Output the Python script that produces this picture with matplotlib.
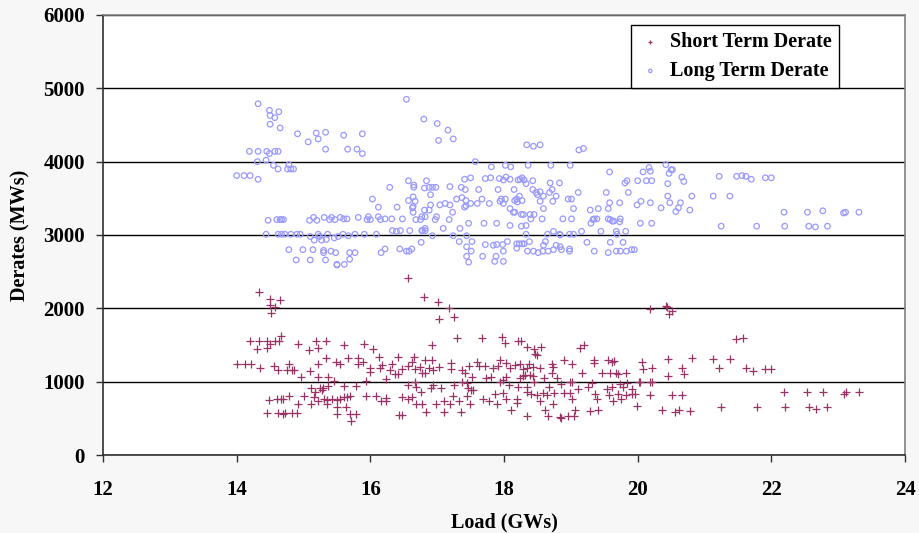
import matplotlib
matplotlib.use("Agg")
import matplotlib.pyplot as plt

# Short term derates: load (GW), derate (MW)
short_load = [
    14.34, 14.50, 14.65, 14.50, 14.57, 14.52, 14.66, 14.20, 14.34, 14.45, 14.50, 14.58, 14.63,
    14.31, 14.45, 14.92, 15.19, 15.22, 15.34, 15.08, 15.61, 15.90, 16.04, 14.01, 14.13, 14.21,
    14.35, 14.56, 14.62, 14.78, 14.76, 14.82, 14.86, 14.96, 15.10, 15.22, 15.34, 15.22, 15.37,
    15.49, 15.55, 15.67, 15.81, 15.81, 15.89, 15.99, 16.00, 16.13, 16.14, 16.18, 16.23, 16.29,
    16.33, 16.37, 16.41, 16.42, 15.46, 15.61, 15.78, 15.93, 15.11, 15.25, 15.29, 15.36, 15.01,
    15.15, 15.27, 15.17, 14.48, 14.61, 14.67, 14.70, 14.78, 14.91, 15.11, 15.21, 15.31, 15.35,
    15.42, 15.50, 15.55, 15.61, 15.65, 15.70, 15.93, 16.09, 16.16, 16.23, 16.23, 15.50, 15.63,
    15.35, 14.45, 14.62, 14.69, 14.72, 14.82, 14.90, 15.50, 15.70, 15.78, 16.43, 15.71,
    16.56, 16.81, 17.01, 17.18, 17.03, 17.25, 20.18, 20.42, 20.44, 20.47, 20.52, 17.30, 17.67,
    17.97, 18.01, 18.21, 18.25, 16.92, 18.34, 18.45, 18.55, 18.47, 18.50, 19.14, 19.20,
    16.66, 16.62, 16.57, 16.48, 16.67, 16.74, 16.82, 16.92, 16.78, 16.82, 16.87, 16.94, 17.02,
    17.21, 17.20, 17.37, 17.42, 17.48, 17.59, 17.63, 17.71, 17.83, 17.91, 17.94, 18.03, 18.09,
    18.16, 18.24, 18.28, 18.34, 18.38, 18.44, 18.54, 18.72, 18.74, 18.89, 19.01, 19.34, 19.34,
    19.56, 19.61, 19.64, 20.06, 20.08, 20.21, 20.46, 20.67, 20.82, 20.70,
    16.57, 16.68, 16.67, 16.91, 16.94, 17.06, 17.25, 17.37, 17.44, 17.46, 17.52, 17.53, 17.73,
    17.81, 17.94, 18.03, 17.99, 18.08, 18.21, 18.24, 18.28, 18.31, 18.34, 18.39, 18.44, 18.45,
    18.60, 18.68, 18.79, 18.85, 18.99, 19.01, 19.11, 19.25, 19.31, 19.46, 19.58, 19.54, 19.61,
    19.68, 19.70, 19.74, 19.78, 19.84, 19.91, 20.02, 20.04, 20.18, 20.22, 20.46, 19.16, 19.83,
    18.72,
    16.47, 16.57, 16.63, 16.69, 16.77, 16.76, 16.98, 17.10, 17.19, 17.23, 17.32, 17.44, 17.49,
    17.51, 17.69, 17.78, 17.87, 17.89, 17.99, 18.03, 18.19, 18.20, 18.35, 18.41, 18.49, 18.54,
    18.59, 18.64, 18.73, 18.75, 18.89, 18.98, 19.01, 19.36, 19.39, 19.57, 19.63, 19.71, 19.75,
    19.82, 19.91, 19.96, 20.19, 20.51, 20.66, 19.99, 20.36, 20.56, 20.62, 20.78, 19.06, 18.61,
    18.11, 19.40, 19.29,
    16.83, 17.10, 17.35, 18.34, 18.66, 18.84, 18.86, 18.96, 19.04, 16.47,
    21.47, 21.57, 21.13, 21.38, 21.22, 21.62, 21.72, 21.91, 21.99, 22.19, 22.54, 22.78, 23.09,
    23.12, 23.31, 21.25, 21.79, 22.20, 22.56, 22.67, 22.84,
]
short_mw = [
    2220, 2130, 2110, 2050, 2020, 1930, 1620, 1550, 1550, 1550, 1520, 1550, 1550,
    1440, 1460, 1520, 1550, 1460, 1560, 1430, 1500, 1520, 1440, 1240, 1240, 1240,
    1180, 1220, 1160, 1240, 1160, 1160, 1160, 1070, 1140, 1245, 1320, 1070, 1070,
    1270, 1240, 1320, 1320, 1240, 1270, 1180, 1130, 1340, 1180, 1230, 1040, 1160,
    1240, 1110, 1340, 1100, 1010, 940, 940, 1010, 910, 910, 910, 940, 800,
    790, 880, 860, 750, 770, 770, 770, 800, 700, 700, 730, 770, 750,
    770, 750, 760, 790, 790, 800, 800, 800, 740, 780, 740, 660, 660,
    700, 570, 570, 560, 570, 570, 570, 560, 560, 560, 550, 470,
    2410, 2150, 2080, 2000, 1860, 1880, 1990, 2030, 2020, 1920, 1960, 1600, 1600,
    1610, 1530, 1550, 1550, 1500, 1470, 1450, 1470, 1380, 1360, 1460, 1500,
    1340, 1270, 1210, 1170, 1170, 1200, 1300, 1300, 1120, 1120, 1180, 1160, 1200,
    1260, 1170, 1160, 1120, 1210, 1270, 1210, 1210, 1180, 1210, 1300, 1250, 1180,
    1230, 1240, 1170, 1180, 1240, 1200, 1190, 1240, 1200, 1300, 1245, 1300, 1250,
    1300, 1270, 1280, 1270, 1170, 1180, 1310, 1180, 1320, 1100,
    960, 930, 990, 910, 960, 910, 960, 1000, 980, 910, 1060, 880, 1050,
    1060, 990, 1060, 1020, 960, 930, 1045, 1080, 1090, 930, 1090, 1080, 990,
    1050, 930, 1045, 970, 1000, 1000, 900, 930, 980, 1120, 1120, 900, 930,
    1120, 1110, 970, 930, 980, 905, 990, 990, 990, 990, 1080, 1120, 1120,
    1120,
    790, 760, 790, 700, 700, 860, 700, 730, 700, 800, 730, 800, 700,
    880, 760, 730, 830, 700, 840, 760, 770, 710, 860, 830, 820, 730,
    850, 820, 700, 840, 850, 840, 760, 830, 760, 820, 730, 830, 760,
    820, 830, 830, 820, 820, 820, 670, 620, 590, 620, 600, 620, 620,
    620, 620, 600,
    580, 580, 580, 530, 530, 520, 510, 530, 530, 550,
    1580, 1600, 1310, 1310, 1180, 1180, 1150, 1170, 1170, 860, 860, 860, 830,
    860, 860, 650, 650, 660, 650, 630, 660,
]

# Long term derates: load (GW), derate (MW)
long_load = [
    14.32, 14.49, 14.63, 14.50, 14.57, 14.50, 14.65, 14.91, 15.19, 15.33, 15.22, 15.07, 15.60,
    15.88, 15.33, 15.66, 15.80, 15.88, 14.19, 14.32, 14.45, 14.49, 14.57, 14.62, 14.31, 14.44,
    14.55, 14.62, 14.78, 14.76, 14.81, 14.85, 14.00, 14.11, 14.20, 14.32, 16.29, 16.03, 16.12,
    16.40,
    14.47, 14.60, 14.65, 14.67, 14.70, 15.09, 15.15, 15.20, 15.31, 15.39, 15.42, 15.47, 15.55,
    15.60, 15.65, 15.82, 15.95, 15.97, 16.00, 16.12, 16.15, 16.22, 16.32,
    14.44, 14.62, 14.67, 14.72, 14.81, 14.90, 14.95, 15.22, 15.36, 15.59, 15.77, 15.91, 16.09,
    16.33, 16.39,
    15.10, 15.16, 15.27, 15.34, 15.24, 15.46, 15.52, 15.67,
    14.78, 14.99, 15.14, 15.30, 15.30, 15.41, 15.48, 15.69, 15.77, 16.16, 16.22,
    14.89, 15.10, 15.33, 15.69, 15.50, 15.50, 15.61,
    16.54, 16.80, 17.00, 17.16, 17.02, 17.24, 18.34, 18.44, 18.54, 19.12, 19.19, 17.57,
    17.81, 18.02, 18.10, 18.36, 18.70, 18.99, 19.58, 20.17, 20.19, 20.42, 20.47, 20.50, 20.52,
    20.08,
    16.57, 16.84, 17.41, 17.50, 17.72, 17.80, 17.93, 17.99, 18.03, 18.09, 18.21, 18.24, 18.27,
    18.30, 18.43, 18.69, 18.83, 19.81, 19.84, 20.00, 20.13, 20.21, 20.45, 20.66, 20.69,
    16.65, 16.65, 16.81, 16.88, 16.93, 16.98, 17.19, 17.36, 17.42, 17.62, 17.91, 18.15, 18.33,
    18.43, 18.48, 18.54, 18.50, 18.59, 18.72, 18.68, 18.78, 19.11, 19.53, 19.86,
    16.57, 16.64, 16.67, 16.64, 16.90, 17.04, 17.12, 17.19, 17.29, 17.37, 17.43, 17.43, 17.50,
    17.60, 17.67, 17.78, 17.94, 17.96, 18.02, 17.99, 18.09, 18.14, 18.16, 18.19, 18.23, 18.20,
    18.27, 18.54, 18.73, 18.96, 19.01, 19.04, 19.29, 19.41, 19.56, 19.58, 19.73, 19.99, 20.05,
    20.19, 20.35, 20.45, 20.48, 20.57, 20.61, 20.64, 20.78, 20.81,
    16.48, 16.64, 16.63, 16.68, 16.75, 16.77, 16.81, 16.82, 16.88, 16.90, 16.97, 16.99, 17.18,
    17.23, 17.41, 17.47, 17.70, 17.89, 18.09, 18.16, 18.26, 18.29, 18.26, 18.33, 18.39, 18.40,
    18.45, 18.57, 18.59, 18.88, 19.01, 19.30, 19.33, 19.35, 19.39, 19.56, 19.59, 19.62, 19.64,
    19.74, 19.73, 20.04, 20.21,
    16.45, 16.59, 16.77, 16.78, 16.82, 16.82, 16.93, 17.09, 17.24, 17.34, 17.44, 18.33, 18.65,
    18.74, 18.83, 18.84, 18.98, 19.04, 19.16, 19.45, 19.68, 19.69, 19.82,
    16.76, 16.44, 16.54, 16.58, 16.62, 17.33, 17.44, 17.52, 17.51, 17.72, 17.84, 17.89, 17.98,
    17.99, 18.05, 18.19, 18.19, 18.23, 18.27, 18.30, 18.35, 18.38, 18.44, 18.51, 18.58, 18.59,
    18.62, 18.66, 18.74, 18.78, 18.84, 18.86, 18.98, 18.98, 19.24, 19.35, 19.56, 19.59, 19.68,
    19.74, 19.78, 19.83, 19.91, 19.95,
    17.44, 17.47, 17.68, 17.86, 17.88, 17.99,
    21.22, 21.48, 21.56, 21.62, 21.70, 21.91, 22.00, 21.13, 21.38, 22.19, 22.54, 22.77, 23.08,
    23.11, 23.31, 21.25, 21.78, 22.20, 22.56, 22.66, 22.84,
]
long_mw = [
    4790, 4700, 4680, 4630, 4600, 4510, 4460, 4380, 4390, 4400, 4310, 4270, 4360,
    4380, 4170, 4170, 4170, 4110, 4140, 4140, 4140, 4110, 4140, 4140, 4000, 4020,
    3950, 3900, 3960, 3900, 3900, 3900, 3810, 3810, 3810, 3760, 3650, 3490, 3380,
    3380,
    3200, 3210, 3210, 3210, 3210, 3200, 3240, 3200, 3240, 3210, 3240, 3210, 3240,
    3220, 3220, 3240, 3210, 3250, 3210, 3250, 3210, 3220, 3220,
    3010, 3010, 3010, 3010, 3010, 3010, 3010, 3010, 3010, 3010, 3010, 3010, 3010,
    3060, 3050,
    2980, 2930, 2930, 2940, 2980, 2960, 2980, 2990,
    2800, 2800, 2800, 2790, 2760, 2780, 2760, 2760, 2760, 2760, 2810,
    2660, 2660, 2660, 2670, 2600, 2590, 2600,
    4850, 4580, 4520, 4430, 4290, 4310, 4230, 4210, 4230, 4160, 4180, 4000,
    3930, 3950, 3930, 3950, 3950, 3950, 3860, 3920, 3870, 3960, 3840, 3890, 3890,
    3860,
    3740, 3740, 3760, 3780, 3770, 3780, 3770, 3750, 3790, 3760, 3750, 3760, 3780,
    3750, 3740, 3710, 3710, 3710, 3740, 3740, 3740, 3740, 3700, 3790, 3730,
    3680, 3650, 3640, 3650, 3650, 3650, 3660, 3650, 3620, 3620, 3620, 3620, 3700,
    3620, 3580, 3590, 3550, 3530, 3620, 3580, 3530, 3580, 3580, 3580,
    3470, 3520, 3460, 3390, 3550, 3410, 3430, 3410, 3490, 3510, 3470, 3400, 3430,
    3430, 3490, 3430, 3460, 3490, 3490, 3430, 3360, 3310, 3470, 3490, 3530, 3450,
    3470, 3460, 3460, 3490, 3490, 3360, 3340, 3360, 3360, 3440, 3440, 3410, 3460,
    3440, 3370, 3530, 3440, 3320, 3370, 3440, 3340, 3530,
    3220, 3310, 3370, 3210, 3210, 3250, 3340, 3250, 3340, 3410, 3210, 3250, 3210,
    3310, 3380, 3160, 3160, 3160, 3130, 3310, 3280, 3280, 3120, 3130, 3280, 3220,
    3280, 3220, 3360, 3220, 3220, 3160, 3210, 3220, 3220, 3220, 3210, 3190, 3190,
    3220, 3180, 3160, 3160,
    3060, 3060, 3060, 3060, 3090, 3060, 2990, 3090, 2990, 3090, 2990, 3010, 3010,
    3050, 3010, 3000, 3010, 3010, 3050, 3050, 3050, 3010, 3050,
    2900, 2810, 2780, 2780, 2810, 2910, 2840, 2910, 2780, 2870, 2860, 2870, 2870,
    2780, 2910, 2880, 2820, 2880, 2880, 2880, 2780, 2910, 2780, 2760, 2780, 2860,
    2910, 2780, 2800, 2860, 2840, 2800, 2810, 2780, 2900, 2780, 2760, 2900, 2780,
    2780, 2900, 2780, 2800, 2800,
    2710, 2630, 2710, 2640, 2710, 2640,
    3800, 3800, 3810, 3800, 3760, 3780, 3780, 3530, 3530, 3310, 3310, 3330, 3300,
    3310, 3310, 3120, 3120, 3120, 3120, 3110, 3120,
]

x_ticks = [12, 14, 16, 18, 20, 22, 24]
y_ticks = [0, 1000, 2000, 3000, 4000, 5000, 6000]

plt.rcParams['font.family'] = ['Liberation Serif', 'DejaVu Serif']
plt.rcParams['font.weight'] = 'bold'

fig = plt.figure(figsize=(9.2, 5.33), dpi=100, facecolor='#f7f7f7')
ax = fig.add_axes([0.112, 0.1463, 0.8717, 0.8256])
ax.set_facecolor('white')

ax.scatter(short_load, short_mw, marker='+', s=30, c='#993366', linewidths=0.9,
           label='Short Term Derate', zorder=3)
ax.scatter(long_load, long_mw, marker='o', s=16, facecolors='none', edgecolors='#9999ff',
           linewidths=0.9, label='Long Term Derate', zorder=3)

ax.set_xlim(12, 24)
ax.set_ylim(0, 6000)
ax.set_xticks(x_ticks)
ax.set_yticks(y_ticks)
ax.yaxis.grid(True, color='black', linewidth=1.0)
ax.set_axisbelow(True)
for side in ['left', 'bottom']:
    ax.spines[side].set_color('#303030')
    ax.spines[side].set_linewidth(1.2)
for side in ['top', 'right']:
    ax.spines[side].set_color('#808080')
    ax.spines[side].set_linewidth(1.2)

ax.tick_params(axis='both', direction='out', length=5, width=1, colors='#303030',
               labelcolor='black', labelsize=15)
ax.tick_params(axis='x', pad=13)
ax.tick_params(axis='y', pad=8)
for lab in ax.get_xticklabels() + ax.get_yticklabels():
    lab.set_fontweight('bold')

ax.set_xlabel('Load (GWs)', fontsize=14.5, fontweight='bold', labelpad=9)
ax.set_ylabel('Derates (MWs)', fontsize=14.5, fontweight='bold', labelpad=9)

leg = ax.legend(loc='upper right', bbox_to_anchor=(0.918, 0.977), fontsize=14.5,
                frameon=True, fancybox=False, edgecolor='black', framealpha=1,
                markerscale=0.6, handletextpad=0.4, borderpad=0.35, labelspacing=0.45,
                handlelength=1.2, borderaxespad=0)
leg.get_frame().set_linewidth(1.0)
for t in leg.get_texts():
    t.set_fontweight('bold')

fig.savefig('out.png', dpi=100, facecolor=fig.get_facecolor())
